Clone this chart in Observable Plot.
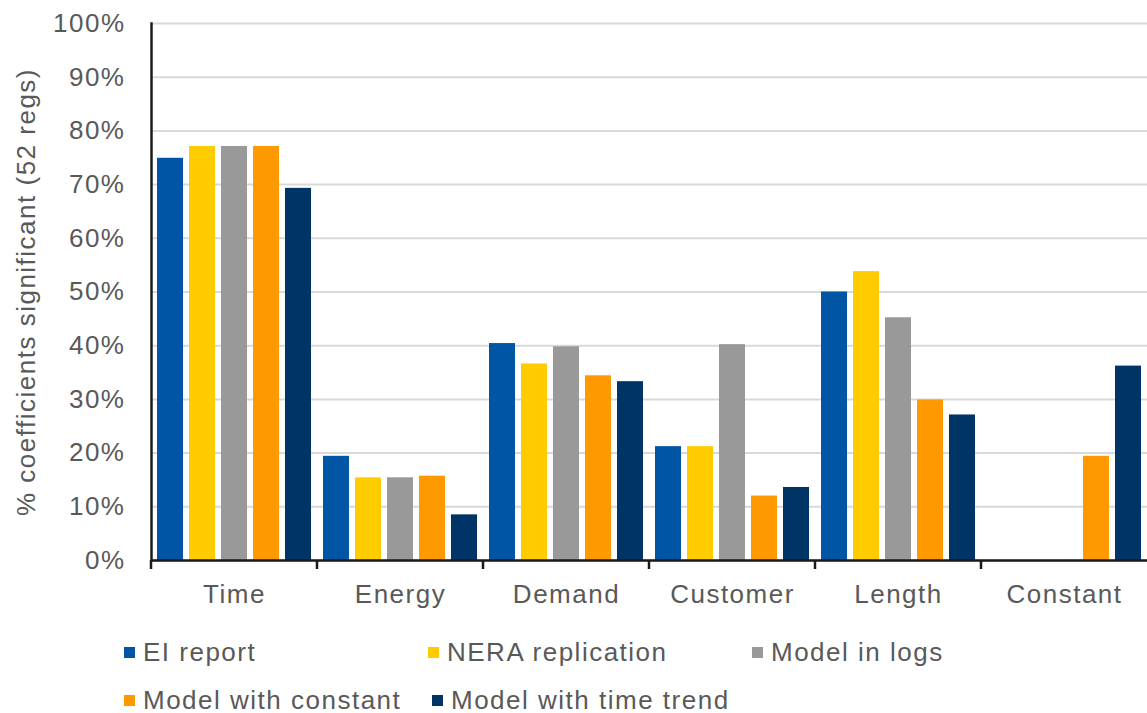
<!DOCTYPE html>
<html><head><meta charset="utf-8">
<script src="https://cdn.jsdelivr.net/npm/d3@7"></script>
<script src="https://cdn.jsdelivr.net/npm/@observablehq/plot@0.6"></script>
<style>
body{margin:0;background:#fff;font-family:"Liberation Sans",Arial,sans-serif;}
#legend{position:relative;height:93px;width:1147px;}
.item{position:absolute;font-size:26px;letter-spacing:1.5px;color:#595959;display:flex;align-items:center;height:30px;line-height:30px;white-space:nowrap;}
.sw{width:11px;height:11px;margin-right:8px;flex:none;}
</style></head><body>
<div id="chart"></div><div id="legend"></div>
<script>
const categories = ["Time","Energy","Demand","Customer","Length","Constant"];
const series = ["EI report","NERA replication","Model in logs","Model with constant","Model with time trend"];
const colors = ["#0055A4","#FFCC00","#999999","#FF9900","#003366"];
const eiReport          = [0.749, 0.194, 0.404, 0.212, 0.500, 0];
const neraReplication   = [0.771, 0.154, 0.366, 0.212, 0.538, 0];
const modelInLogs       = [0.771, 0.154, 0.398, 0.402, 0.452, 0];
const modelWithConstant = [0.771, 0.157, 0.344, 0.120, 0.299, 0.194];
const modelWithTimeTrend= [0.693, 0.085, 0.333, 0.136, 0.271, 0.362];
const yTicks = [0,0.1,0.2,0.3,0.4,0.5,0.6,0.7,0.8,0.9,1.0];
const yLabel = "% coefficients significant (52 regs)";
const legendRows = [[0,1,2],[3,4]];

const values = [eiReport, neraReplication, modelInLogs, modelWithConstant, modelWithTimeTrend];
const data = [];
categories.forEach((c, i) => series.forEach((s, j) => data.push({category: c, series: s, value: values[j][i]})));

function boundaryTicks(index, scales, vals, dims) {
  const x = scales.x, y = scales.y;
  const r = x && x.range ? x.range() : [dims.marginLeft, dims.width - dims.marginRight];
  const left = Math.min(r[0], r[1]);
  const y0 = y(0);
  const g = d3.create("svg:g");
  g.append("line").attr("x1", left).attr("x2", left).attr("y1", y0).attr("y2", y0 + 9)
    .attr("stroke", "#1a1a1a").attr("stroke-width", 2.5);
  return g.node();
}

const chart = Plot.plot({
  width: 1147, height: 620,
  marginTop: 23, marginBottom: 60, marginLeft: 150, marginRight: 0,
  style: {fontFamily: '"Liberation Sans", Arial, sans-serif', fontSize: "26px", color: "#595959", background: "#fff", letterSpacing: "1.5px"},
  fx: {domain: categories, padding: 0, label: null},
  x: {domain: series, paddingInner: 0.2, paddingOuter: 0.18, axis: null},
  y: {domain: [0, 1]},
  color: {domain: series, range: colors},
  marks: [
    Plot.gridY(yTicks, {stroke: "#d9d9d9", strokeOpacity: 1, strokeWidth: 2}),
    Plot.barY(data, {fx: "category", x: "series", y: "value", fill: "series"}),
    Plot.ruleY([0], {stroke: "#1a1a1a", strokeWidth: 2.5}),
    Plot.frame({anchor: "left", facetAnchor: "left", stroke: "#1a1a1a", strokeWidth: 2.5}),
    Plot.axisY(yTicks, {tickFormat: d3.format(".0%"), tickSize: 0, tickPadding: 26, label: yLabel, labelAnchor: "center", labelOffset: 135, labelArrow: "none", fill: "#595959"}),
    Plot.axisFx({anchor: "bottom", tickSize: 0, tickPadding: 24, label: null, fill: "#595959"}),
    boundaryTicks
  ]
});
document.getElementById("chart").appendChild(chart);

const legend = document.getElementById("legend");
const legendLeft = [[124, 428, 752], [124, 432]];
legendRows.forEach((row, ri) => row.forEach((si, k) => {
  const d = document.createElement("div");
  d.className = "item";
  d.style.left = legendLeft[ri][k] + "px";
  d.style.top = (17 + ri * 48) + "px";
  const sw = document.createElement("span");
  sw.className = "sw"; sw.style.background = colors[si];
  d.appendChild(sw);
  d.appendChild(document.createTextNode(series[si]));
  legend.appendChild(d);
}));
</script>
</body></html>
